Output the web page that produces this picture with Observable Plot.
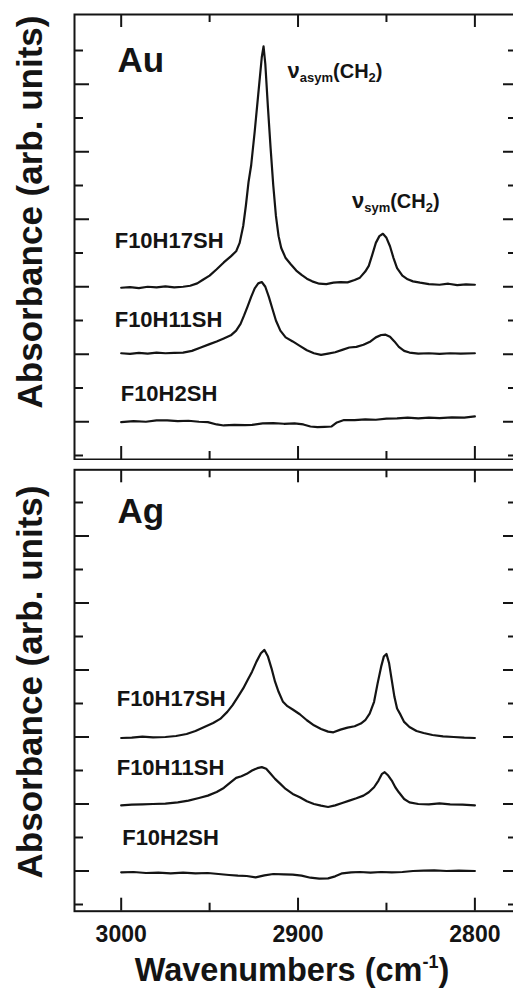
<!DOCTYPE html>
<html>
<head>
<meta charset="utf-8">
<script src="https://cdn.jsdelivr.net/npm/d3@7"></script>
<script src="https://cdn.jsdelivr.net/npm/@observablehq/plot@0.6"></script>
<style>
  body { margin: 0; background: #fff; overflow: hidden; }
  #figure { width: 513px; height: 990px; overflow: hidden; }
  #figure svg { display: block; max-width: none; }
</style>
</head>
<body>
<div id="figure"></div>
<script>
// Samples, stacked from top to bottom, and their vertical display offsets
const samples = ["F10H17SH", "F10H11SH", "F10H2SH"];
const offsets = [5, 3, 1];

// Axis ticks
const xMajorTicks = [3000, 2900, 2800];
const xMinorTicks = [2950, 2850];
const xTickLabels = ["3000", "2900", "2800"];
const yMajorTicks = [1, 3, 5, 7, 9, 11];
const yMinorTicks = [0, 2, 4, 6, 8, 10, 12];

// IRRAS spectra, C–H stretching region: [wavenumber (cm⁻¹), absorbance (arb. units)]
const auH17 = [
  [3000, -0.03], [2995, -0.01], [2990, -0.04], [2985, 0.0], [2980, -0.02], [2975, 0.01],
  [2970, -0.02], [2965, 0.0], [2961, 0.03], [2957, 0.1], [2954, 0.2], [2950, 0.33],
  [2946, 0.52], [2942, 0.72], [2938, 0.9], [2935, 1.05], [2933, 1.3], [2931, 1.8],
  [2929.5, 2.4], [2928, 3.1], [2926.5, 3.6], [2924.5, 4.6], [2922.5, 5.7], [2920.5, 6.8],
  [2919.5, 7.12], [2918.5, 6.6], [2917, 5.3], [2915.5, 4.1], [2914, 3.0], [2912.5, 2.1],
  [2911, 1.5], [2909.5, 1.15], [2907, 0.85], [2904, 0.66], [2901, 0.48], [2898, 0.35],
  [2895, 0.24], [2892, 0.16], [2888, 0.09], [2884, 0.08], [2880, 0.12], [2876, 0.14],
  [2872, 0.13], [2868, 0.2], [2865, 0.27], [2862, 0.45], [2860, 0.62], [2858, 0.95],
  [2856, 1.3], [2854, 1.5], [2852, 1.57], [2850, 1.45], [2848, 1.2], [2846, 0.85],
  [2844, 0.55], [2841, 0.33], [2838, 0.22], [2835, 0.16], [2831, 0.12], [2826, 0.08],
  [2820, 0.06], [2815, 0.09], [2810, 0.05], [2805, 0.07], [2800, 0.06]
];
const auH11 = [
  [3000, 0.03], [2995, 0.01], [2990, 0.04], [2985, 0.02], [2980, 0.05], [2975, 0.03],
  [2970, 0.04], [2965, 0.05], [2960, 0.1], [2955, 0.2], [2950, 0.3], [2946, 0.38],
  [2942, 0.47], [2938, 0.56], [2935, 0.7], [2932.5, 0.9], [2930.5, 1.15], [2928.5, 1.42],
  [2926.5, 1.7], [2924.5, 1.95], [2922.5, 2.1], [2920.5, 2.14], [2918.5, 2.0], [2916.5, 1.7],
  [2914.5, 1.35], [2912.5, 1.0], [2910, 0.7], [2907, 0.5], [2903, 0.38], [2899, 0.25],
  [2895, 0.12], [2891, 0.03], [2887, -0.02], [2883, 0.02], [2879, 0.06], [2875, 0.13],
  [2871, 0.2], [2867, 0.22], [2863, 0.28], [2859, 0.38], [2856, 0.5], [2853, 0.57],
  [2850.5, 0.58], [2848, 0.52], [2845.5, 0.38], [2843, 0.22], [2840, 0.1], [2837, 0.05],
  [2832, 0.02], [2826, 0.03], [2820, 0.01], [2814, 0.03], [2808, 0.02], [2800, 0.03]
];
const auH2 = [
  [3000, -0.01], [2993, 0.02], [2986, 0.0], [2980, 0.04], [2974, 0.04], [2968, 0.02],
  [2962, 0.03], [2956, 0.0], [2951, -0.01], [2946, -0.08], [2942, -0.11], [2936, -0.09],
  [2930, -0.1], [2926, -0.09], [2920, -0.05], [2914, -0.04], [2908, -0.06], [2902, -0.05],
  [2897, -0.08], [2893, -0.14], [2889, -0.16], [2885, -0.15], [2881, -0.14], [2878, -0.02],
  [2874, 0.05], [2868, 0.05], [2862, 0.07], [2856, 0.06], [2850, 0.09], [2844, 0.1],
  [2838, 0.12], [2832, 0.1], [2826, 0.12], [2820, 0.11], [2813, 0.13], [2806, 0.12], [2800, 0.16]
];
const agH17 = [
  [3000, -0.03], [2994, -0.02], [2988, 0.01], [2982, -0.01], [2975, 0.0], [2969, 0.03],
  [2963, 0.09], [2958, 0.18], [2953, 0.3], [2948, 0.42], [2944, 0.54], [2940, 0.75],
  [2937, 0.95], [2934, 1.2], [2931, 1.45], [2928.5, 1.7], [2926, 1.95], [2923.5, 2.25],
  [2921, 2.5], [2919, 2.6], [2917, 2.4], [2915, 2.05], [2913, 1.65], [2911, 1.35],
  [2908.5, 1.05], [2906, 0.92], [2903, 0.82], [2899, 0.68], [2895, 0.5], [2891, 0.35],
  [2887, 0.24], [2883, 0.16], [2880, 0.14], [2876, 0.22], [2872, 0.28], [2868, 0.32],
  [2864.5, 0.4], [2862, 0.5], [2859.5, 0.7], [2857, 1.05], [2855, 1.6], [2853, 2.1],
  [2851.5, 2.4], [2850, 2.48], [2848.5, 2.2], [2847, 1.7], [2845.5, 1.2], [2844, 0.85],
  [2842, 0.66], [2840, 0.45], [2837, 0.3], [2833, 0.18], [2829, 0.12], [2824, 0.06],
  [2818, 0.02], [2812, 0.0], [2806, -0.02], [2800, -0.03]
];
const agH11 = [
  [3000, -0.04], [2994, -0.02], [2988, -0.01], [2982, 0.0], [2975, 0.01], [2968, 0.05],
  [2962, 0.1], [2956, 0.18], [2951, 0.25], [2946, 0.36], [2942, 0.48], [2938, 0.65],
  [2935, 0.78], [2932, 0.83], [2929, 0.9], [2926, 1.0], [2923, 1.07], [2920.5, 1.1],
  [2918, 1.05], [2915.5, 0.9], [2913, 0.75], [2910, 0.6], [2907, 0.45], [2903, 0.3],
  [2899, 0.2], [2895, 0.08], [2891, 0.0], [2887, -0.05], [2883, -0.09], [2879, -0.04],
  [2875, 0.03], [2871, 0.1], [2867, 0.17], [2863, 0.25], [2860, 0.35], [2857, 0.5],
  [2854.5, 0.7], [2852.5, 0.9], [2851, 0.95], [2849, 0.85], [2847, 0.7], [2845, 0.5],
  [2843, 0.35], [2840, 0.15], [2837, 0.05], [2832, 0.0], [2826, -0.01], [2820, 0.02],
  [2814, -0.01], [2807, -0.02], [2800, -0.04]
];
const agH2 = [
  [3000, -0.04], [2993, -0.03], [2986, -0.06], [2979, -0.05], [2972, -0.07], [2965, -0.05],
  [2958, -0.07], [2951, -0.06], [2945, -0.09], [2939, -0.12], [2934, -0.14], [2929, -0.15],
  [2924, -0.19], [2919, -0.13], [2914, -0.09], [2908, -0.1], [2903, -0.11], [2898, -0.14],
  [2893, -0.2], [2888, -0.23], [2883, -0.22], [2879, -0.16], [2875, -0.07], [2870, -0.04],
  [2865, -0.03], [2859, -0.05], [2853, -0.03], [2847, -0.04], [2841, -0.03], [2835, 0.0],
  [2829, 0.01], [2823, 0.02], [2816, 0.0], [2809, 0.01], [2800, 0.0]
];

const ink = "#141414";
const W = 518, ML = 74, MR = 1;
const innerW = W - ML - MR;

// Stack the traces of one substrate with their display offsets
function stack(series) {
  return series.flatMap((pts, i) =>
    pts.map(([wn, a]) => ({sample: samples[i], wn, y: a + offsets[i]})));
}

// Highest point of a trace within a wavenumber window
function peak(pts, i, lo, hi) {
  const p = d3.greatest(pts.filter(([wn]) => wn >= lo && wn <= hi), d => d[1]);
  return {wn: p[0], y: p[1] + offsets[i]};
}

function panel({metal, series, height, marginTop, marginBottom, yDomain, metalDy,
                labelShift, bands = [], bottomAxis = false, titleDy}) {
  const innerH = height - marginTop - marginBottom;
  const data = stack(series);
  const labels = samples.map((s, i) => ({sample: s, wn: series[i][0][0], y: offsets[i]}));
  const tick = (vals, opts) => Plot.ruleX(vals, {x: d => d, stroke: ink, strokeWidth: 2, ...opts});
  const ytick = (vals, opts) => Plot.ruleY(vals, {y: d => d, stroke: ink, strokeWidth: 2, ...opts});
  const marks = [
    // inward ticks on all four sides
    tick(xMajorTicks, {insetBottom: innerH - 13}),
    tick(xMinorTicks, {insetBottom: innerH - 8}),
    tick(xMajorTicks, {insetTop: innerH - 13}),
    tick(xMinorTicks, {insetTop: innerH - 8}),
    ytick(yMajorTicks, {insetRight: innerW - 15}),
    ytick(yMinorTicks, {insetRight: innerW - 9}),
    ytick(yMajorTicks, {insetLeft: innerW - 14}),
    ytick(yMinorTicks, {insetLeft: innerW - 9}),
    Plot.frame({stroke: ink, strokeWidth: 2}),
    Plot.line(data, {x: "wn", y: "y", z: "sample", stroke: ink, strokeWidth: 2.2,
                     strokeLinejoin: "round", curve: "linear"}),
    Plot.text(labels, {x: "wn", y: "y", text: "sample", textAnchor: "start",
                       lineAnchor: "bottom", fontSize: 22, fill: ink}),
    Plot.text([metal], {frameAnchor: "top-left", dx: 43, dy: metalDy, textAnchor: "start",
                        lineAnchor: "bottom", fontSize: 35, fill: ink}),
    Plot.text(["Absorbance (arb. units)"], {frameAnchor: "left", rotate: -90, dx: -43.5, dy: titleDy,
                        textAnchor: "middle", lineAnchor: "middle", fontSize: 35, fill: ink}),
    ...bands.map(b => Plot.text([b], {x: "wn", y: "y", text: d => "ν" + d.mode + "(CH2)",
                        textAnchor: "start", lineAnchor: "bottom", dx: b.dx, dy: b.dy,
                        fontSize: 20, fill: ink}))
  ];
  if (bottomAxis) {
    marks.push(Plot.text(xMajorTicks, {x: d => d, text: (d, i) => xTickLabels[i], frameAnchor: "bottom",
                       dy: 31, textAnchor: "middle", lineAnchor: "bottom", fontSize: 23, fill: ink}));
    marks.push(Plot.text(["Wavenumbers (cm-1)"], {frameAnchor: "bottom", dx: -4, dy: 70,
                       textAnchor: "middle", lineAnchor: "bottom", fontSize: 32.5, fill: ink}));
  }
  const svg = Plot.plot({
    width: W, height, marginLeft: ML, marginRight: MR, marginTop, marginBottom,
    x: {domain: [3026.4, 2775.9], axis: null},
    y: {domain: yDomain, axis: null},
    style: {fontFamily: "'Liberation Sans', Arial, sans-serif", fontWeight: "bold", background: "#fff"},
    marks
  });
  const root = d3.select(svg);
  // nudge each sample label off its trace
  root.selectAll("text").filter(function () { return samples.includes(this.textContent); })
    .each(function () {
      const [dx, dy] = labelShift[samples.indexOf(this.textContent)];
      const t = this.getAttribute("transform") || "";
      this.setAttribute("transform", `translate(${dx},${dy}) ${t}`);
    });
  // vibrational mode labels with subscripts
  root.selectAll("text").filter(function () { return this.textContent.startsWith("ν"); })
    .each(function () {
      const s = this.textContent;
      const mode = s.slice(1, s.indexOf("("));
      const el = d3.select(this).text(null);
      el.append("tspan").attr("font-size", 22).text("ν");
      el.append("tspan").attr("font-size", 13).attr("dy", 4).text(mode);
      el.append("tspan").attr("font-size", 20).attr("dy", -4).text("(CH");
      el.append("tspan").attr("font-size", 13).attr("dy", 4).text("2");
      el.append("tspan").attr("font-size", 20).attr("dy", -4).text(")");
    });
  // unit with superscript
  root.selectAll("text").filter(function () { return this.textContent === "Wavenumbers (cm-1)"; })
    .each(function () {
      const el = d3.select(this).text(null);
      el.append("tspan").text("Wavenumbers (cm");
      el.append("tspan").attr("font-size", 18).attr("dy", -13).text("-1");
      el.append("tspan").attr("dy", 13).text(")");
    });
  return svg;
}

const fig = document.getElementById("figure");

const auAsym = peak(auH17, 0, 2900, 2940);
const auSym = peak(auH17, 0, 2840, 2865);

fig.append(panel({
  metal: "Au",
  series: [auH17, auH11, auH2],
  height: 460, marginTop: 14, marginBottom: 1,
  yDomain: [-0.1185, 13.067],
  metalDy: 57,
  labelShift: [[-6.5, -39], [-6.5, -27], [-0.5, -20.5]],
  bands: [
    {mode: "asym", ...auAsym, dx: 24, dy: 32},
    {mode: "sym", ...auSym, dx: -31, dy: -26}
  ],
  titleDy: -25
}));

fig.append(panel({
  metal: "Ag",
  series: [agH17, agH11, agH2],
  height: 530, marginTop: 9.3, marginBottom: 79.3,
  yDomain: [-0.2, 12.976],
  metalDy: 53,
  labelShift: [[-4.5, -31], [-4.5, -29], [1, -25.5]],
  bottomAxis: true,
  titleDy: -8.5
}));
</script>
</body>
</html>
